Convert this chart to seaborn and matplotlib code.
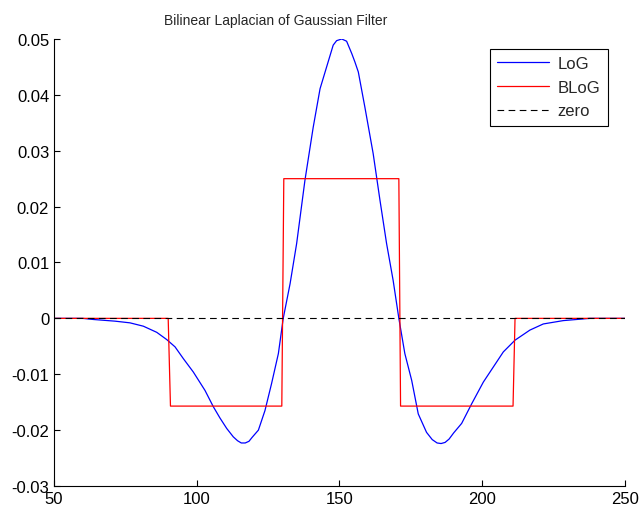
import numpy as np
import pandas as pd
import matplotlib
matplotlib.use('Agg')
import matplotlib.pyplot as plt
import seaborn as sns

# LoG curve
log_x = [50, 60, 63.8, 71.4, 76.6, 81.3, 86, 89.5, 92.4, 95.3, 98.8, 102.9, 105.8,
         108.1, 110.5, 112.8, 114.3, 115.6, 117, 118.3, 119.4, 121.6, 123.9, 126.2,
         128.6, 130.3, 132.7, 135, 137.9, 140.8, 143.2, 145.5, 147.8, 149, 150.8,
         152.5, 154.3, 155.4, 156.6, 158.9, 161.8, 164.2, 166.5, 168.8, 170.8, 172.9,
         175.3, 177.6, 180.5, 182.5, 184.2, 185.6, 187, 188.4, 190, 192.8, 196.3,
         200.4, 203.9, 207.4, 211.5, 216.7, 221.4, 228.4, 237.7, 250]
log_y = [0, 0, -0.0002, -0.0005, -0.0008, -0.0014, -0.0025, -0.0038, -0.0051, -0.0072,
         -0.0096, -0.0129, -0.0158, -0.0178, -0.0197, -0.0212, -0.0219, -0.0223,
         -0.0223, -0.0220, -0.0213, -0.0200, -0.0165, -0.0117, -0.0063, 0.0, 0.0062,
         0.0134, 0.0247, 0.0342, 0.0411, 0.0450, 0.0489, 0.0497, 0.0500, 0.0496,
         0.0474, 0.0459, 0.0441, 0.0378, 0.0295, 0.0211, 0.0134, 0.0068, 0.0, -0.0063,
         -0.0111, -0.0171, -0.0204, -0.0217, -0.0223, -0.0224, -0.0222, -0.0216,
         -0.0205, -0.0188, -0.0153, -0.0114, -0.0087, -0.0060, -0.0039, -0.0021,
         -0.0010, -0.0004, 0, 0]

# bilinear (step) approximation
blog_x = [50, 90, 90.8, 129.8, 130.5, 170.8, 171.4, 210.8, 211.5, 250]
blog_y = [0, 0, -0.0157, -0.0157, 0.025, 0.025, -0.0157, -0.0157, 0, 0]

zero_x = [50, 250]
zero_y = [0, 0]

sns.set_style('ticks')
plt.rcParams['font.family'] = ['Liberation Sans', 'DejaVu Sans']

fig = plt.figure(figsize=(6.39, 5.1), dpi=100)
ax = fig.add_axes([0.0845, 0.0451, 0.8935, 0.8765])

sns.lineplot(x=log_x, y=log_y, sort=False, color='#0000ff', lw=0.9, label='LoG', ax=ax)
sns.lineplot(x=blog_x, y=blog_y, sort=False, color='#ff0000', lw=0.9, label='BLoG', ax=ax)
sns.lineplot(x=zero_x, y=zero_y, sort=False, color='black', lw=0.8, ls=(0, (6, 4)),
             label='zero', ax=ax)

ax.set_xlim(50, 250)
ax.set_ylim(-0.03, 0.05)
ax.set_xticks([50, 100, 150, 200, 250])
ax.set_yticks(np.arange(-0.03, 0.051, 0.01))
ax.set_yticklabels(['-0.03', '-0.02', '-0.01', '0', '0.01', '0.02', '0.03', '0.04', '0.05'])
ax.tick_params(direction='in', length=4, width=0.8, labelsize=12, colors='black')
for side in ['top', 'right']:
    ax.spines[side].set_visible(False)
for side in ['left', 'bottom']:
    ax.spines[side].set_color('black')
    ax.spines[side].set_linewidth(0.8)

ax.set_title('Bilinear Laplacian of Gaussian Filter', fontsize=10, pad=11, x=0.389)

leg = ax.legend(loc='upper right', bbox_to_anchor=(0.9755, 0.986), fontsize=12,
                frameon=True, fancybox=False, framealpha=1, edgecolor='black',
                handlelength=3.1, handletextpad=0.5, borderpad=0.45,
                labelspacing=0.52, borderaxespad=0.2)
leg.get_frame().set_linewidth(0.8)

fig.savefig('out.png', dpi=100)
